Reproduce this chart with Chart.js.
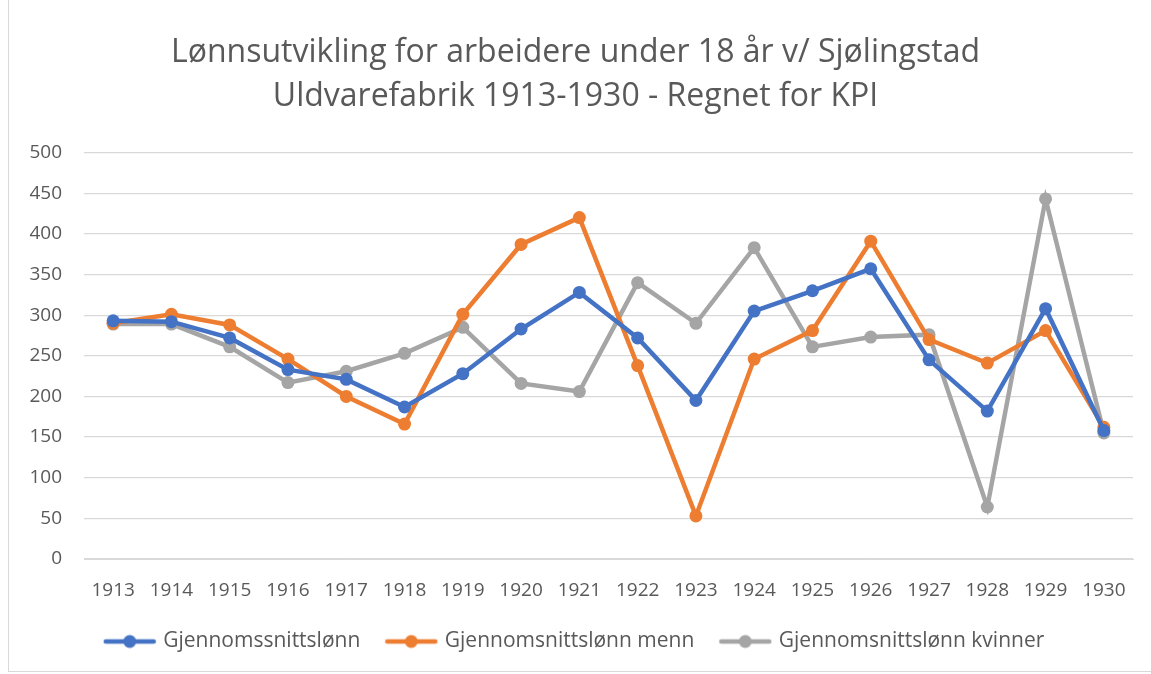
<!DOCTYPE html>
<html>
<head>
<meta charset="utf-8">
<script src="https://cdn.jsdelivr.net/npm/chart.js@4/dist/chart.umd.min.js"></script>
<style>
  html, body { margin: 0; padding: 0; background: #fff; }
  .wrap { position: relative; width: 1151px; height: 674px; }
  .frame { position: absolute; left: 8px; top: -2px; width: 1160px; height: 672px; border: 1px solid #d9d9d9; pointer-events: none; }
</style>
</head>
<body>
<div class="wrap">
  <canvas id="chart" width="1151" height="674"></canvas>
  <div class="frame"></div>
</div>
<script>
// ---- data ----
const years = ['1913', '1914', '1915', '1916', '1917', '1918', '1919', '1920', '1921',
  '1922', '1923', '1924', '1925', '1926', '1927', '1928', '1929', '1930'];
const snitt = [293, 292, 272, 233, 221, 187, 228, 283, 328, 272, 195, 305, 330, 357, 245, 182, 308, 158];
const menn = [290, 301, 288, 246, 200, 166, 301, 387, 420, 238, 53, 246, 281, 391, 270, 241, 281, 162];
const kvinner = [289, 289, 261, 217, 231, 253, 285, 216, 206, 340, 290, 383, 261, 273, 276, 64, 443, 155];
const titleLines = ['Lønnsutvikling for arbeidere under 18 år v/ Sjølingstad', 'Uldvarefabrik 1913-1930 - Regnet for KPI'];

const BLUE = '#4472C4';
const ORANGE = '#ED7D31';
const GREY = '#A5A5A5';
const TXT = '#595959';
const FONT = "'Open Sans', 'Noto Sans', sans-serif";

// legend marker: short line with a dot on it
function legendIcon(color) {
  const c = document.createElement('canvas');
  c.width = 54; c.height = 16;
  const g = c.getContext('2d');
  g.strokeStyle = color; g.lineWidth = 4.5; g.lineCap = 'round';
  g.beginPath(); g.moveTo(3, 8); g.lineTo(51, 8); g.stroke();
  g.fillStyle = color;
  g.beginPath(); g.arc(27, 8, 6.5, 0, Math.PI * 2); g.fill();
  return c;
}

function series(label, data, color) {
  return {
    label, data,
    borderColor: color, backgroundColor: color,
    borderWidth: 4.5,
    pointStyle: 'circle',
    pointRadius: 6.5, pointHoverRadius: 6.5,
    pointBackgroundColor: color, pointBorderColor: color, pointBorderWidth: 0,
    tension: 0,
  };
}

const ctx = document.getElementById('chart').getContext('2d');
new Chart(ctx, {
  type: 'line',
  data: {
    labels: years,
    datasets: [
      series('Gjennomssnittslønn', snitt, BLUE),
      series('Gjennomsnittslønn menn', menn, ORANGE),
      series('Gjennomsnittslønn kvinner', kvinner, GREY),
    ],
  },
  options: {
    responsive: false,
    animation: false,
    layout: { padding: { left: 18, right: 18, top: 30, bottom: 12 } },
    plugins: {
      title: {
        display: true,
        text: titleLines,
        color: TXT,
        font: { family: FONT, size: 32, weight: '400', lineHeight: 1.4 },
        padding: { top: 0, bottom: 33 },
      },
      legend: {
        position: 'bottom',
        labels: {
          color: TXT,
          font: { family: FONT, size: 21 },
          usePointStyle: true,
          pointStyleWidth: 46,
          padding: 28,
          generateLabels: (chart) => chart.data.datasets.map((ds, i) => ({
            text: ds.label,
            fillStyle: ds.borderColor,
            strokeStyle: ds.borderColor,
            lineWidth: 0,
            pointStyle: legendIcon(ds.borderColor),
            fontColor: TXT,
            datasetIndex: i,
            hidden: false,
          })),
        },
      },
      tooltip: { enabled: false },
    },
    scales: {
      x: {
        offset: true,
        grid: { display: false, drawTicks: false },
        border: { display: true, color: '#d9d9d9' },
        ticks: { color: TXT, font: { family: FONT, size: 19 }, padding: 20, maxRotation: 0, autoSkip: false },
        afterFit: (scale) => { scale.height = 44; },
      },
      y: {
        min: 0, max: 500,
        grid: { color: '#d9d9d9', lineWidth: 1.3, drawTicks: false },
        border: { display: false },
        ticks: { stepSize: 50, color: TXT, font: { family: FONT, size: 19 }, padding: 22 },
        afterFit: (scale) => { scale.width = 66; },
      },
    },
  },
});
</script>
</body>
</html>
